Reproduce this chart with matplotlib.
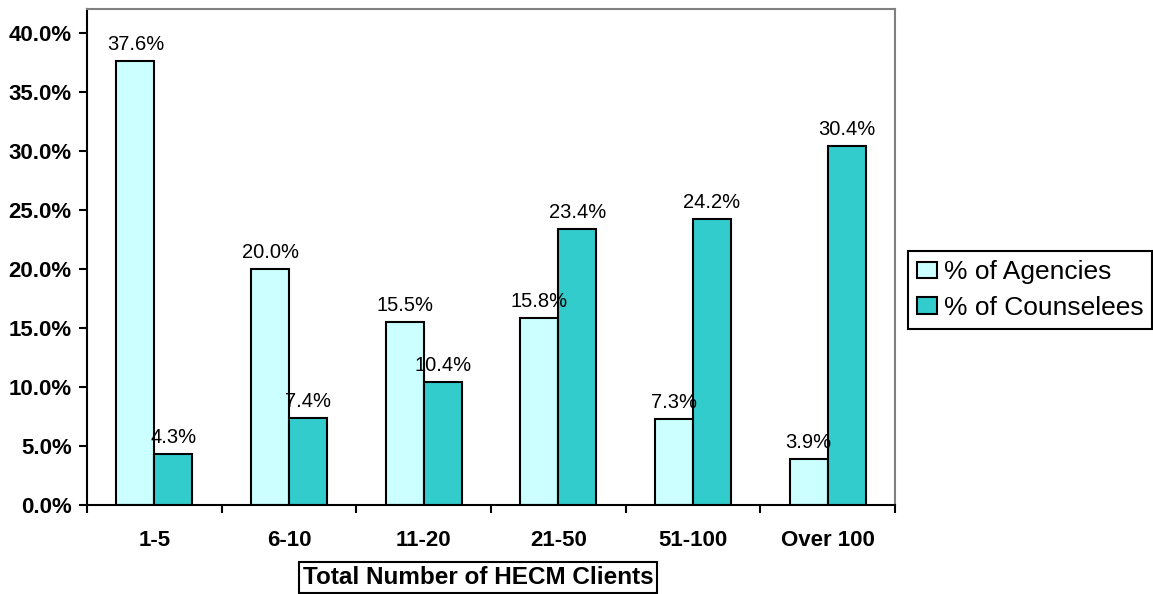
import numpy as np
import matplotlib.pyplot as plt
from matplotlib.ticker import FuncFormatter

plt.rcParams['font.family'] = ['Liberation Sans', 'DejaVu Sans']

categories = ['1-5', '6-10', '11-20', '21-50', '51-100', 'Over 100']
agencies = [37.6, 20.0, 15.5, 15.8, 7.3, 3.9]
counselees = [4.3, 7.4, 10.4, 23.4, 24.2, 30.4]
series_names = ['% of Agencies', '% of Counselees']

fig = plt.figure(figsize=(11.53, 5.94), dpi=100)
ax = fig.add_axes([87/1153, 1 - 505/594, 808/1153, 496/594])

x = np.arange(len(categories))
w = 0.282
b1 = ax.bar(x - w/2, agencies, w, color='#CCFFFF', edgecolor='black', linewidth=1.5, label=series_names[0])
b2 = ax.bar(x + w/2, counselees, w, color='#33CCCC', edgecolor='black', linewidth=1.5, label=series_names[1])

# value labels above bars
for bars, vals in [(b1, agencies), (b2, counselees)]:
    for r, v in zip(bars, vals):
        ax.annotate('{0:.1f}%'.format(v), (r.get_x() + r.get_width()/2, v),
                    xytext=(0, 5), textcoords='offset points',
                    ha='center', va='bottom', fontsize=14.5)

ax.set_xlim(-0.5, 5.5)
ax.set_ylim(0, 42)
ax.set_yticks(np.arange(0, 41, 5))
ax.yaxis.set_major_formatter(FuncFormatter(lambda v, p: '{0:.1f}%'.format(v)))
ax.tick_params(axis='y', direction='out', length=6, width=1.5, pad=5, labelsize=16)
for lab in ax.get_yticklabels():
    lab.set_fontweight('bold')

ax.set_xticks(x)
ax.set_xticklabels(categories, fontsize=16, fontweight='bold')
ax.set_xticks(np.arange(-0.5, 6, 1), minor=True)
ax.tick_params(axis='x', which='major', length=0, pad=18)
ax.tick_params(axis='x', which='minor', direction='out', length=6, width=1.5)

ax.set_xlabel('Total Number of HECM Clients', fontsize=17.5, fontweight='bold',
              bbox=dict(boxstyle='square,pad=0.15', fc='white', ec='black', lw=1.5))
ax.xaxis.label.set_va('center')
ax.xaxis.set_label_coords(0.484, -0.146)

ax.spines['left'].set_linewidth(1.5)
ax.spines['bottom'].set_linewidth(1.5)
ax.spines['top'].set_color('#808080')
ax.spines['right'].set_color('#808080')
ax.spines['top'].set_linewidth(1.5)
ax.spines['right'].set_linewidth(1.5)

leg = fig.legend(handles=[b1, b2], loc='upper left', bbox_to_anchor=(908/1153, 1 - 251/594),
                 borderaxespad=0, fontsize=19, handlelength=0.75, handleheight=0.6,
                 handletextpad=0.25, borderpad=0.35, labelspacing=0.45, fancybox=False,
                 edgecolor='black', framealpha=1)
leg.get_frame().set_linewidth(1.5)

fig.savefig('out.png', dpi=100)
